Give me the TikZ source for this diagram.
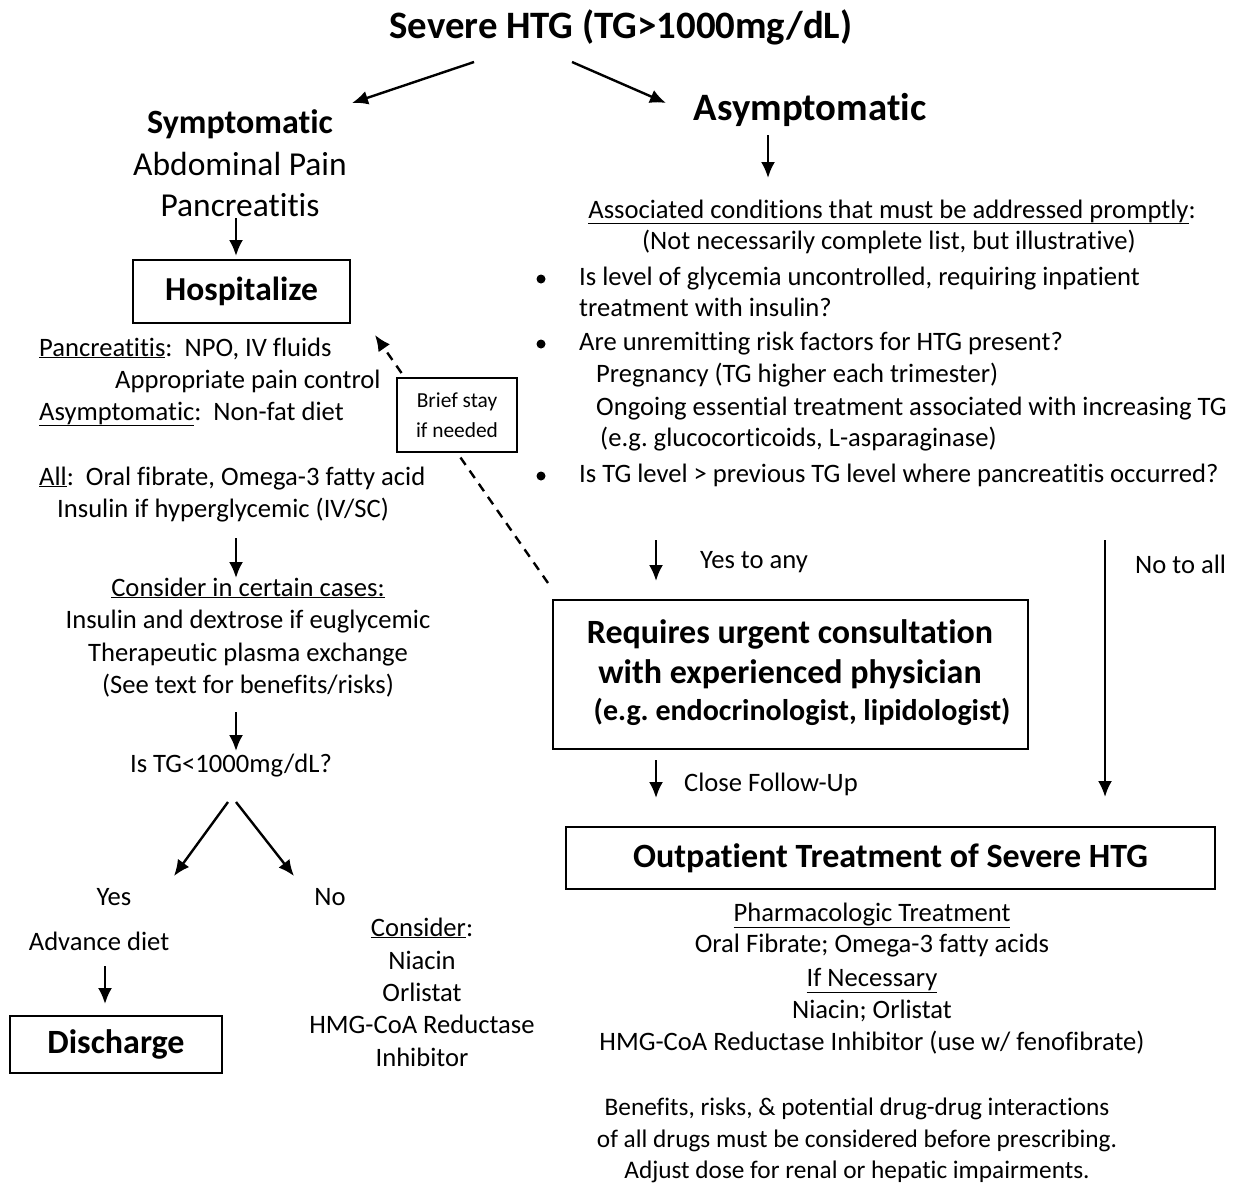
\documentclass[tikz,border=0pt]{standalone}
\usepackage{fontspec}
\setmainfont{Carlito}[RawFeature={-liga;-clig;-rlig;-dlig;-calt}]
\usetikzlibrary{arrows.meta}
\frenchspacing
\newcommand{\fbody}{\fontsize{26.6}{32}\selectfont}
\newcommand{\fbig}{\fontsize{38.8}{44}\selectfont\bfseries}
\newcommand{\fmid}{\fontsize{34}{40}\selectfont\bfseries}
\newcommand{\fsmall}{\fontsize{21.4}{30}\selectfont}
\begin{document}
\begin{tikzpicture}[x=1pt,y=-1pt,
  txt/.style={inner sep=0pt,font=\fbody,text height=18pt,text depth=6pt},
  hdr/.style={inner sep=0pt},
  boxed/.style={draw,line width=1.8pt,fill=white,inner sep=0pt},
  arr/.style={line width=2.4pt,-{Latex[length=16pt,width=14pt]}},
  darr/.style={line width=2.4pt,dash pattern=on 9pt off 7pt,-{Latex[length=16pt,width=14pt]}}]
\useasboundingbox (0,0) rectangle (1236,1186);

% Title and branches
\node[hdr,font=\fbig] (title) at (621,27) {Severe HTG (TG>1000mg/dL)};
\coordinate (tl) at (474,62); \coordinate (tle) at (352,103);
\coordinate (tr) at (572,62); \coordinate (tre) at (666,103);
\draw[arr] (tl) -- (tle);
\draw[arr] (tr) -- (tre);

% Left column
\node[hdr,font=\fmid] (sym) at (240,124) {Symptomatic};
\node[hdr,font=\fontsize{33.5}{40}\selectfont] (abd) at (240,164) {Abdominal Pain};
\node[hdr,font=\fontsize{33.5}{40}\selectfont] (pan) at (240,205) {Pancreatitis};
\node[boxed,minimum width=217pt,minimum height=63pt,font=\fontsize{33.5}{40}\selectfont\bfseries] (hosp) at (241.5,291.5) {Hospitalize};
\draw[arr] (236,218) coordinate (a1) -- (236,256) coordinate (a1e);

\node[txt,anchor=west] (l1) at (39,350) {\underline{Pancreatitis}:\ \ NPO, IV fluids};
\node[txt,anchor=west] (l2) at (115,382) {Appropriate pain control};
\node[txt,anchor=west] (l3) at (39,414) {\underline{Asymptomatic}:\ \ Non-fat diet};
\node[txt,anchor=west] (l4) at (39,479) {\underline{All}:\ \ Oral fibrate, Omega-3 fatty acid};
\node[txt,anchor=west] (l5) at (57,511) {Insulin if hyperglycemic (IV/SC)};
\draw[arr] (236,538) coordinate (a2) -- (236,578) coordinate (a2e);
\node[txt] (c1) at (248,590) {\underline{Consider in certain cases:}};
\node[txt] (c2) at (248,622) {Insulin and dextrose if euglycemic};
\node[txt] (c3) at (248,655) {Therapeutic plasma exchange};
\node[txt] (c4) at (248,687) {(See text for benefits/risks)};
\draw[arr] (236,712) coordinate (a3) -- (236,751) coordinate (a3e);
\node[txt] (q) at (231,766) {Is TG<1000mg/dL?};
\draw[arr] (228,802) coordinate (a4) -- (174,876) coordinate (a4e);
\draw[arr] (236,802) coordinate (a5) -- (294,876) coordinate (a5e);
\node[txt] (yes) at (114,899) {Yes};
\node[txt] (no) at (330,899) {No};
\node[txt] (adv) at (99,944) {Advance diet};
\draw[arr] (105,966) coordinate (a6) -- (105,1004) coordinate (a6e);
\node[boxed,minimum width=212pt,minimum height=57pt,font=\fontsize{34}{40}\selectfont\bfseries] (dis) at (116,1044.5) {Discharge};
\node[txt] (k1) at (422,930) {\underline{Consider}:};
\node[txt] (k2) at (422,963) {Niacin};
\node[txt] (k3) at (422,995) {Orlistat};
\node[txt] (k4) at (422,1027) {HMG-CoA Reductase};
\node[txt] (k5) at (422,1060) {Inhibitor};

% Right column
\node[hdr,font=\fbig] (asym) at (810,110) {Asymptomatic};
\draw[arr] (768,135) coordinate (a7) -- (768,178) coordinate (a7e);
\node[txt] (r0) at (892,212) {\underline{Associated conditions that must be addressed promptly}:};
\node[txt] (r1) at (889,243) {(Not necessarily complete list, but illustrative)};
\foreach \yy/\nm in {279/b1,344/b2,476/b3} \fill (541,\yy) circle (4.5pt);
\node[txt,anchor=west] (r2) at (579,279) {Is level of glycemia uncontrolled, requiring inpatient};
\node[txt,anchor=west] (r3) at (579,310) {treatment with insulin?};
\node[txt,anchor=west] (r4) at (579,344) {Are unremitting risk factors for HTG present?};
\node[txt,anchor=west] (r5) at (596,376) {Pregnancy (TG higher each trimester)};
\node[txt,anchor=west] (r6) at (596,409) {Ongoing essential treatment associated with increasing TG};
\node[txt,anchor=west] (r7) at (600,440) {(e.g. glucocorticoids, L-asparaginase)};
\node[txt,anchor=west] (r8) at (579,476) {Is TG level > previous TG level where pancreatitis occurred?};

\draw[arr] (656,540) coordinate (a8) -- (656,581) coordinate (a8e);
\node[txt,anchor=west] (yta) at (700,562) {Yes to any};
\draw[arr] (1105,540) coordinate (a9) -- (1105,797) coordinate (a9e);
\node[txt,anchor=west] (nta) at (1135,567) {No to all};

\node[boxed,minimum width=475pt,minimum height=149pt,align=center] (req) at (790.5,674.5) {};
\node[hdr,font=\fontsize{34}{40}\selectfont\bfseries] (req1) at (790,634) {Requires urgent consultation};
\node[hdr,font=\fontsize{34}{40}\selectfont\bfseries] (req2) at (790,674) {with experienced physician};
\node[hdr,font=\fontsize{30}{36}\selectfont\bfseries] (req3) at (802,712) {(e.g. endocrinologist, lipidologist)};
\draw[arr] (656,760) coordinate (a10) -- (656,798) coordinate (a10e);
\node[txt,anchor=west] (cfu) at (684,785) {Close Follow-Up};

\node[boxed,minimum width=649pt,minimum height=62pt,font=\fontsize{34}{40}\selectfont\bfseries] (out) at (890.5,858) {Outpatient Treatment of Severe HTG};
\node[txt] (o1) at (872,915) {\underline{Pharmacologic Treatment}};
\node[txt] (o2) at (872,946) {Oral Fibrate; Omega-3 fatty acids};
\node[txt] (o3) at (872,980) {\underline{If Necessary}};
\node[txt] (o4) at (872,1012) {Niacin; Orlistat};
\node[txt] (o5) at (872,1044) {HMG-CoA Reductase Inhibitor (use w/ fenofibrate)};
\node[txt,font=\fontsize{25.3}{32}\selectfont] (o6) at (857,1109) {Benefits, risks, \& potential drug-drug interactions};
\node[txt,font=\fontsize{25.3}{32}\selectfont] (o7) at (857,1141) {of all drugs must be considered before prescribing.};
\node[txt,font=\fontsize{25.3}{32}\selectfont] (o8) at (857,1172) {Adjust dose for renal or hepatic impairments.};

% Dashed return to hospitalize
\coordinate (dstart) at (548,583);
\coordinate (dend) at (375,335);
\draw[darr] (dstart) -- (dend);
\node[boxed,minimum width=120pt,minimum height=74pt,align=center,font=\fsmall] (brief) at (457,415) {Brief stay\\if needed};
\end{tikzpicture}
\end{document}
